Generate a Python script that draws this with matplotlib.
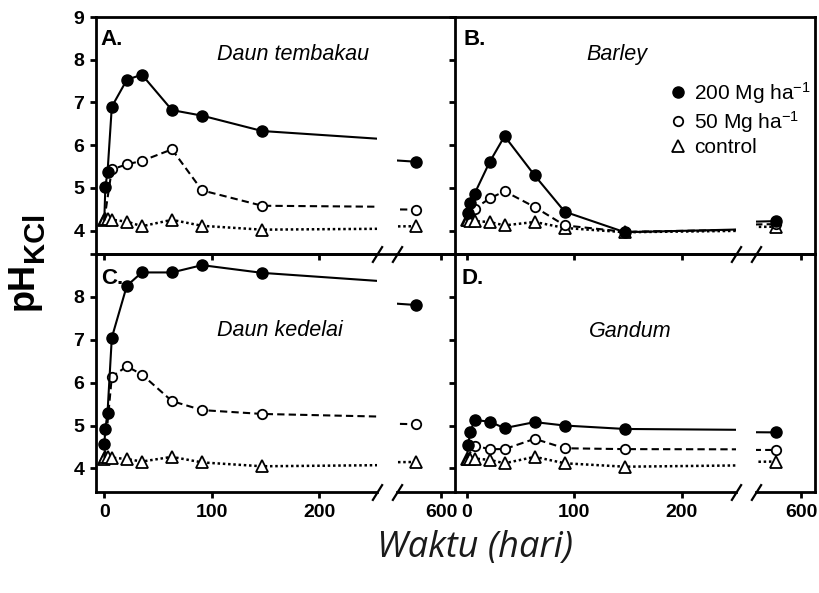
import matplotlib
matplotlib.use('Agg')
import matplotlib.pyplot as plt
from matplotlib.lines import Line2D

plt.rcParams['font.family'] = ['Liberation Sans', 'DejaVu Sans']
plt.rcParams['mathtext.fontset'] = 'custom'
plt.rcParams['mathtext.rm'] = 'Liberation Sans'
plt.rcParams['mathtext.it'] = 'Liberation Sans:italic'
plt.rcParams['mathtext.bf'] = 'Liberation Sans:bold'

# ---------------- data ----------------
DAYS = [0, 1, 3, 7, 21, 35, 63, 91, 147, 577]      # 200 Mg/ha and control
DAYS_50 = [0, 7, 21, 35, 63, 91, 147, 577]         # 50 Mg/ha

A_200 = [4.25, 5.03, 5.36, 6.90, 7.53, 7.65, 6.82, 6.69, 6.33, 5.61]
A_50 = [4.25, 5.43, 5.55, 5.63, 5.90, 4.94, 4.58, 4.49]
A_CTL = [4.25, 4.27, 4.26, 4.25, 4.21, 4.10, 4.25, 4.11, 4.02, 4.10]

B_200 = [4.25, 4.40, 4.65, 4.86, 5.60, 6.21, 5.29, 4.44, 3.96, 4.22]
B_50 = [4.25, 4.51, 4.75, 4.92, 4.55, 4.12, 3.97, 4.15]
B_CTL = [4.25, 4.25, 4.23, 4.22, 4.20, 4.12, 4.20, 4.06, 3.96, 4.09]

C_200 = [4.56, 4.92, 5.30, 7.05, 8.26, 8.57, 8.57, 8.74, 8.56, 7.81]
C_50 = [4.25, 6.14, 6.38, 6.19, 5.57, 5.36, 5.27, 5.03]
C_CTL = [4.23, 4.27, 4.27, 4.25, 4.22, 4.16, 4.27, 4.14, 4.05, 4.15]

D_200 = [4.25, 4.55, 4.84, 5.13, 5.09, 4.94, 5.08, 5.00, 4.92, 4.84]
D_50 = [4.25, 4.53, 4.45, 4.45, 4.69, 4.47, 4.45, 4.43]
D_CTL = [4.23, 4.23, 4.23, 4.23, 4.20, 4.12, 4.27, 4.12, 4.04, 4.16]

PANEL_LETTERS = ['A.', 'B.', 'C.', 'D.']
PANEL_TITLES = ['Daun tembakau', 'Barley', 'Daun kedelai', 'Gandum']
LEGEND_LABELS = ['200 Mg ha$^{-1}$', '50 Mg ha$^{-1}$', 'control']
X_TICKS_1 = [0, 100, 200]
X_TICKS_2 = [600]
Y_TICKS = [4, 5, 6, 7, 8, 9]
X_LABEL = 'Waktu (hari)'

SERIES = [(A_200, A_50, A_CTL), (B_200, B_50, B_CTL),
          (C_200, C_50, C_CTL), (D_200, D_50, D_CTL)]

# ---------------- layout (pixels) ----------------
W, H = 820, 593
fig = plt.figure(figsize=(W / 100, H / 100), dpi=100)
fig.patch.set_facecolor('white')

def rect(x0, y0, x1, y1):
    return [x0 / W, 1 - y1 / H, (x1 - x0) / W, (y1 - y0) / H]

COLS = [(96, 455, 104.3), (455, 815, 467.0)]   # left, right, px of day 0
ROWS = [(17, 254), (254, 492)]
K = 1.074          # px per day
SEG1 = 281         # width of first segment
GAP = 20
YLIM = (3.45, 9.0)
SPW = 2.0
LETTER_POS = [(100, 45), (463.5, 45), (101, 284), (462, 284)]
TITLE_POS = [(293, 60.5), (617, 60), (280, 336.5), (630, 337)]
MARK_START_200 = [1, 1, 0, 1]   # first plotted marker index (day-0 start hidden)

tick_kw = dict(direction='out', length=4.5, width=SPW, labelsize=14)

def slash(ax, xa):
    ax.plot([xa], [0], transform=ax.transAxes, marker=[(-1, -1.6), (1, 1.6)],
            ms=12, mew=1.6, color='k', clip_on=False, zorder=20)

style_200 = dict(color='k', lw=1.5, ls='-', marker='o', ms=8, mfc='k', mec='k', zorder=5)
style_50 = dict(color='k', lw=1.5, ls=(0, (3.5, 2)), marker='o', ms=6.8, mfc='white',
                mec='k', mew=1.3, zorder=4, markevery=slice(1, None))
style_ctl = dict(color='k', lw=1.8, ls=(0, (1, 1.1)), marker='^', ms=8.5, mfc='white',
                 mec='k', mew=1.3, zorder=3)

for idx in range(4):
    r, c = divmod(idx, 2)
    x0, x1, z = COLS[c]
    y0, y1 = ROWS[r]
    # frame (top / right border)
    fr = fig.add_axes(rect(x0, y0, x1, y1), zorder=0)
    fr.set_xticks([]); fr.set_yticks([])
    fr.patch.set_visible(False)
    for s in ['left', 'bottom']:
        fr.spines[s].set_visible(False)
    fr.spines['right'].set_visible(c == 1)
    fr.spines['top'].set_linewidth(SPW)
    fr.spines['right'].set_linewidth(SPW)

    s1 = fig.add_axes(rect(x0, y0, x0 + SEG1, y1), zorder=2)
    s2 = fig.add_axes(rect(x0 + SEG1 + GAP, y0, x1, y1), zorder=2)
    s1.set_xlim((x0 - z) / K, (x0 + SEG1 - z) / K)
    p600 = x1 - 14
    s2.set_xlim(600 - (p600 - (x0 + SEG1 + GAP)) / K, 600 + (x1 - p600) / K)
    for ax in (s1, s2):
        ax.patch.set_visible(False)
        ax.set_ylim(*YLIM)
        ax.spines['top'].set_visible(False)
        ax.spines['right'].set_visible(False)
        ax.spines['bottom'].set_linewidth(SPW)
        ax.spines['left'].set_linewidth(SPW)
        ax.tick_params(**tick_kw)
    s2.spines['left'].set_visible(False)
    s2.set_yticks([])
    s1.set_xticks(X_TICKS_1)
    s2.set_xticks(X_TICKS_2)
    s1.set_yticks(Y_TICKS)
    if c == 0:
        labels = [str(v) for v in Y_TICKS]
        if r == 1:
            labels[-1] = ''
        s1.set_yticklabels(labels, fontweight='bold', fontsize=14)
    else:
        s1.tick_params(labelleft=False)
    if r == 0:
        s1.tick_params(labelbottom=False)
        s2.tick_params(labelbottom=False)
    else:
        s1.set_xticklabels([str(v) for v in X_TICKS_1], fontweight='bold', fontsize=14)
        s2.set_xticklabels([str(v) for v in X_TICKS_2], fontweight='bold', fontsize=14)
    s1.tick_params(axis='y', pad=4)
    s1.tick_params(axis='x', pad=4)
    s2.tick_params(axis='x', pad=4)

    v200, v50, vctl = SERIES[idx]
    for ax in (s1, s2):
        ax.plot(DAYS, vctl, **style_ctl)
        ax.plot(DAYS_50, v50, **style_50)
        ax.plot(DAYS, v200, markevery=slice(MARK_START_200[idx], None), **style_200)

    slash(s1, 1.0)
    slash(s2, 0.0)

    lx, ly = LETTER_POS[idx]
    fig.text(lx / W, 1 - ly / H, PANEL_LETTERS[idx], fontsize=16, fontweight='bold',
             ha='left', va='baseline')
    tx, ty = TITLE_POS[idx]
    fig.text(tx / W, 1 - ty / H, PANEL_TITLES[idx], fontsize=15.5, style='italic',
             ha='center', va='baseline')

    if idx == 1:
        handles = [Line2D([], [], ls='none', marker='o', ms=8, mfc='k', mec='k'),
                   Line2D([], [], ls='none', marker='o', ms=6.8, mfc='white', mec='k', mew=1.3),
                   Line2D([], [], ls='none', marker='^', ms=8.5, mfc='white', mec='k', mew=1.3)]
        s1.legend(handles, LEGEND_LABELS, loc='upper left',
                  bbox_to_anchor=(669.5 / W, 1 - 80 / H), bbox_transform=fig.transFigure,
                  frameon=False, fontsize=15, handlelength=0.8, handletextpad=0.4,
                  labelspacing=0.15, borderpad=0, borderaxespad=0)

# axis labels
fig.text(33 / W, 1 - 262 / H, 'pH', rotation=90, rotation_mode='anchor',
         ha='right', va='baseline', fontsize=26, fontweight='bold')
fig.text(43 / W, 1 - 262 / H, 'KCl', rotation=90, rotation_mode='anchor',
         ha='left', va='baseline', fontsize=21, fontweight='bold')
fig.text(475 / W, 1 - 548 / H, X_LABEL, fontsize=26, style='italic',
         family=['Open Sans', 'DejaVu Sans'], color='#1a1a1a', ha='center', va='center')

fig.savefig('out.png', dpi=100, facecolor='white')
